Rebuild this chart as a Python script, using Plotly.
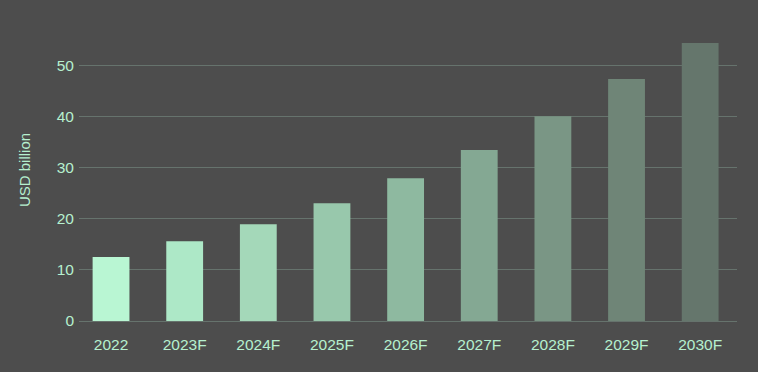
import plotly.graph_objects as go

categories = ["2022", "2023F", "2024F", "2025F", "2026F", "2027F", "2028F", "2029F", "2030F"]
values = [12.5, 15.6, 18.9, 23.0, 27.9, 33.4, 40.0, 47.3, 54.3]
bar_colors = ["#b9f6d3", "#ade8c7", "#a4d8b9", "#98c8ac", "#8eb9a0", "#84a893", "#7a9685", "#6f8577", "#65766c"]

W, H = 758, 372
ml, mr, mt, mb = 79, 21, 19, 51

fig = go.Figure(go.Bar(
    x=list(range(len(categories))), y=values,
    marker=dict(color=bar_colors, line=dict(width=0)),
    width=0.5,
))

fig.update_layout(
    width=W, height=H,
    margin=dict(l=ml, r=mr, t=mt, b=mb, pad=0),
    paper_bgcolor="#4d4d4d", plot_bgcolor="#4d4d4d",
    font=dict(family="Arial, 'Liberation Sans', sans-serif", size=15.5, color="#b6f0cf"),
    showlegend=False,
    xaxis=dict(
        tickmode="array", tickvals=list(range(len(categories))), ticktext=categories,
        range=[-0.435, 8.5], showgrid=False, zeroline=False, showline=False,
        ticks="", ticklabelstandoff=12,
    ),
    yaxis=dict(
        range=[0, 59], dtick=10, showgrid=True, gridcolor="#66736d", gridwidth=1,
        zeroline=True, zerolinecolor="#66736d", zerolinewidth=1,
        showline=False, ticks="", ticklabelstandoff=4,
        title=dict(text="USD billion", font=dict(size=15, color="#b6f0cf"), standoff=22),
    ),
)

fig.write_html(
    "out.html",
    config={"displayModeBar": False},
    post_script="document.body.style.margin='0';document.body.style.overflow='hidden';",
)
